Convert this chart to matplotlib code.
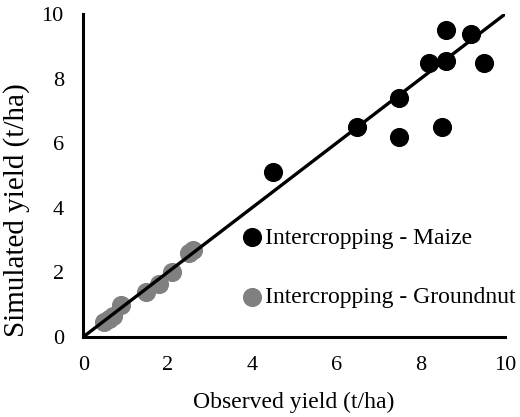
import matplotlib.pyplot as plt

# observed vs simulated yield (t/ha)
maize_obs = [4.5, 6.5, 7.5, 7.5, 8.2, 8.6, 8.6, 9.2, 9.5, 8.5]
maize_sim = [5.1, 6.5, 7.4, 6.2, 8.5, 8.55, 9.5, 9.4, 8.5, 6.5]
gnut_obs = [0.5, 0.6, 0.7, 0.9, 1.5, 1.8, 2.1, 2.5, 2.6]
gnut_sim = [0.45, 0.55, 0.65, 1.0, 1.4, 1.65, 2.0, 2.6, 2.7]
line_x = [0, 10]

plt.rcParams['font.family'] = ['Liberation Serif', 'DejaVu Serif']

fig = plt.figure(figsize=(5.2, 4.17), dpi=100)
ax = fig.add_axes([0.16, 0.192, 0.811, 0.774])

ax.plot(line_x, line_x, color='black', lw=2.4, zorder=3)
ax.scatter(maize_obs, maize_sim, s=190, color='black', lw=0,
           label='Intercropping - Maize', zorder=2)
ax.scatter(gnut_obs, gnut_sim, s=190, color='#808080', lw=0,
           label='Intercropping - Groundnut', zorder=2)

ax.set_xlim(0, 10)
ax.set_ylim(0, 10)
ax.set_xticks([0, 2, 4, 6, 8, 10])
ax.set_yticks([0, 2, 4, 6, 8, 10])
ax.tick_params(length=0, labelsize=16)
ax.tick_params(axis='x', pad=14)
ax.tick_params(axis='y', pad=14)
for s in ['top', 'right']:
    ax.spines[s].set_visible(False)
for s in ['left', 'bottom']:
    ax.spines[s].set_linewidth(2.2)
ax.set_xlabel('Observed yield (t/ha)', fontsize=17, labelpad=12)
ax.set_ylabel('Simulated yield (t/ha)', fontsize=21)
ax.yaxis.set_label_coords(-0.125, 0.393)

ax.legend(loc='center left', bbox_to_anchor=(0.378, 0.215), frameon=False,
          fontsize=17, handlelength=0.8, handletextpad=0.15,
          labelspacing=1.6, borderpad=0, borderaxespad=0)

fig.savefig('out.png')
